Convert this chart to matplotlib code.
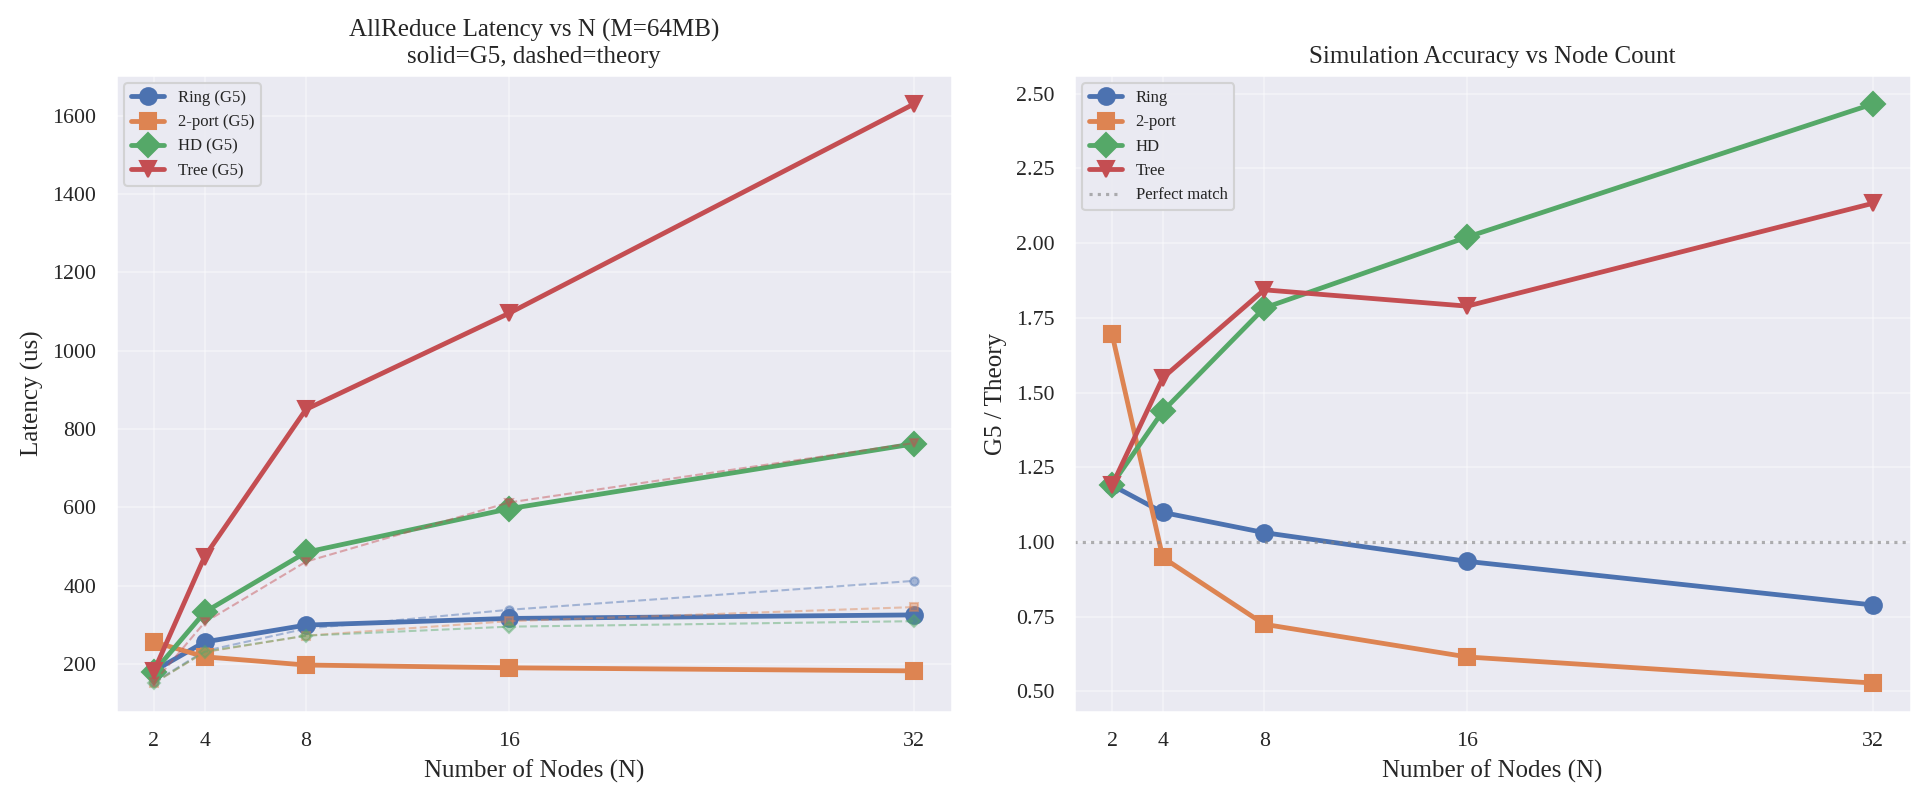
import matplotlib
matplotlib.use("Agg")
import matplotlib.pyplot as plt
import seaborn as sns
import numpy as np

sns.set_theme(style="darkgrid")
plt.rcParams['font.family'] = ['Liberation Serif', 'DejaVu Serif']

nodes = [2, 4, 8, 16, 32]
algos = ["Ring", "2-port", "HD", "Tree"]
markers = ["o", "s", "D", "v"]

ring_g5 = [182, 256, 299, 316, 325]
twoport_g5 = [256, 218, 197, 190, 182]
hd_g5 = [180, 332, 485, 596, 762]
tree_g5 = [182, 474, 850, 1095, 1630]

ring_theory = [153, 233, 290, 338, 412]
twoport_theory = [151, 230, 272, 309, 345]
hd_theory = [151, 231, 272, 295, 309]
tree_theory = [153, 306, 461, 612, 764]

g5 = [ring_g5, twoport_g5, hd_g5, tree_g5]
theory = [ring_theory, twoport_theory, hd_theory, tree_theory]
colors = sns.color_palette("deep")[:4]

fig = plt.figure(figsize=(1927 / 150, 802 / 150), dpi=150)
ax1 = fig.add_axes([116 / 1927, 1 - 712 / 802, (952 - 116) / 1927, (712 - 75) / 802])
ax2 = fig.add_axes([1074 / 1927, 1 - 712 / 802, (1911 - 1074) / 1927, (712 - 75) / 802])

for name, m, c, g, t in zip(algos, markers, colors, g5, theory):
    ax1.plot(nodes, g, marker=m, color=c, lw=2.3, ms=8, label=f"{name} (G5)")
    ax1.plot(nodes, t, marker=m, color=c, lw=1.0, ms=4, ls="--", alpha=0.45)
ax1.set_xticks(nodes)
ax1.set_xlabel("Number of Nodes (N)", fontsize=12)
ax1.set_ylabel("Latency (us)", fontsize=12)
ax1.set_title("AllReduce Latency vs N (M=64MB)\nsolid=G5, dashed=theory", fontsize=12)
ax1.tick_params(labelsize=10.5)
ax1.grid(True, alpha=0.35)
ax1.legend(loc="upper left", fontsize=8)

for name, m, c, g, t in zip(algos, markers, colors, g5, theory):
    ratio = np.array(g, dtype=float) / np.array(t, dtype=float)
    ax2.plot(nodes, ratio, marker=m, color=c, lw=2.3, ms=8, label=name)
ax2.axhline(1.0, color="gray", ls=":", lw=1.5, alpha=0.6, label="Perfect match")
ax2.set_xticks(nodes)
ax2.set_xlabel("Number of Nodes (N)", fontsize=12)
ax2.set_ylabel("G5 / Theory", fontsize=12)
ax2.set_title("Simulation Accuracy vs Node Count", fontsize=12)
ax2.tick_params(labelsize=10.5)
ax2.grid(True, alpha=0.35)
ax2.legend(loc="upper left", fontsize=8)

fig.savefig("out.png", dpi=150)
